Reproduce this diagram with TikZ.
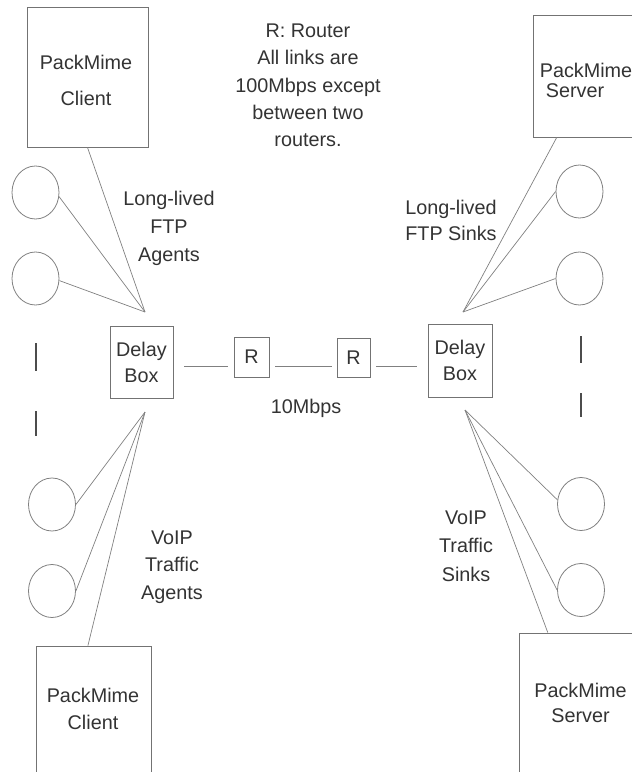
\documentclass[tikz,border=0pt]{standalone}
\usepackage{fontspec}
\setmainfont{Liberation Sans}
\usetikzlibrary{shapes.geometric,calc}

\begin{document}
\begin{tikzpicture}[x=1pt,y=-1pt,
  txt/.style={text=black!80, font=\fontsize{19.8}{27}\selectfont, align=center, inner sep=0pt},
  box/.style={draw=black!55, line width=0.9pt, rectangle, inner sep=0pt},
  host/.style={draw=black!50, line width=0.8pt, ellipse, minimum width=47pt, minimum height=53pt, inner sep=0pt},
  link/.style={draw=black!50, line width=0.7pt},
  elide/.style={draw=black!70, line width=1.3pt}]

\useasboundingbox (0,0) rectangle (632,772);
\clip (0,0) rectangle (632,772);

% PackMime end points (some run past the page edge)
\node[box, minimum width=121pt, minimum height=140pt] (cliA) at (87.5,77) {};
\node[txt, font=\fontsize{19.8}{35.5}\selectfont] (cliAt) at (86,80.3) {PackMime\\Client};

\node[box, minimum width=127pt, minimum height=122pt] (srvA) at (596.5,76) {};
\node[txt] (srvAt1) at (586,70) {PackMime};
\node[txt] (srvAt2) at (575,90.5) {Server};

\node[box, minimum width=115pt, minimum height=154pt] (cliB) at (93.5,723) {};
\node[txt] (cliBt) at (93,708.5) {PackMime\\Client};

\node[box, minimum width=141pt, minimum height=167pt] (srvB) at (589.5,716.5) {};
\node[txt, font=\fontsize{19.8}{25}\selectfont] (srvBt) at (580.5,703) {PackMime\\Server};

% delay boxes and routers
\node[box, txt, font=\fontsize{19.8}{26}\selectfont, minimum width=63pt, minimum height=72pt] (dlyL) at (141.5,362) {Delay\\Box};
\node[box, txt, font=\fontsize{19.8}{26}\selectfont, minimum width=64pt, minimum height=73pt] (dlyR) at (460,360.5) {Delay\\Box};
\node[box, txt, minimum width=35pt, minimum height=40pt] (rtA) at (251.5,357) {R};
\node[box, txt, minimum width=33pt, minimum height=39pt] (rtB) at (353.5,357.5) {R};

% traffic hosts
\node[host] (ftpA1) at (35.5,192.5) {};
\node[host] (ftpA2) at (35.5,278.5) {};
\node[host] (voA1) at (52,504.5) {};
\node[host] (voA2) at (52,591) {};
\node[host] (ftpS1) at (579.5,191.5) {};
\node[host] (ftpS2) at (579.5,278.5) {};
\node[host] (voS1) at (581,504) {};
\node[host] (voS2) at (581,590) {};

% meeting points of the access links
\coordinate (hubLT) at (145,312);
\coordinate (hubLB) at (145,412);
\coordinate (hubRT) at (463,312);
\coordinate (hubRB) at (465,410);

\draw[link] (cliA.south) -- (hubLT);
\draw[link] (ftpA1.-10) -- (hubLT);
\draw[link] (ftpA2.-5) -- (hubLT);

\draw[link] (voA1.east) -- (hubLB);
\draw[link] (voA2.east) -- (hubLB);
\draw[link] ($(cliB.north west)!0.452!(cliB.north east)$) -- (hubLB);

\draw[link] ($(srvA.south west)!0.189!(srvA.south east)$) -- (hubRT);
\draw[link] (ftpS1.west) -- (hubRT);
\draw[link] (ftpS2.west) -- (hubRT);

\draw[link] (voS1.170) -- (hubRB);
\draw[link] (voS2.west) -- (hubRB);
\draw[link] ($(srvB.north west)!0.206!(srvB.north east)$) -- (hubRB);

% backbone
\coordinate (lk) at (0,366);
\draw[link, shorten <=11pt, shorten >=6pt] (dlyL.east |- lk) -- (rtA.west |- lk);
\draw[link, shorten <=6pt, shorten >=5pt] (rtA.east |- lk) -- (rtB.west |- lk);
\draw[link, shorten <=6pt, shorten >=11pt] (rtB.east |- lk) -- (dlyR.west |- lk);

% elided hosts
\draw[elide] (36,343) -- (36,371);
\draw[elide] (36,411) -- (36,436);
\draw[elide] (581,336) -- (581,363);
\draw[elide] (581,393) -- (581,417);

% labels
\node[txt, font=\fontsize{19.8}{27.25}\selectfont] (note) at (308,85.5) {R: Router\\All links are\\100Mbps except\\between two\\routers.};
\node[txt, font=\fontsize{19.8}{28}\selectfont] (lblFA) at (169,228.6) {Long-lived\\FTP\\Agents};
\node[txt, font=\fontsize{19.8}{26}\selectfont] (lblFS) at (451,220) {Long-lived\\FTP Sinks};
\node[txt, font=\fontsize{19.8}{27.5}\selectfont] (lblVA) at (172,567) {VoIP\\Traffic\\Agents};
\node[txt, font=\fontsize{19.8}{28.5}\selectfont] (lblVS) at (466,546) {VoIP\\Traffic\\Sinks};
\node[txt] (bw) at (306,408) {10Mbps};

\end{tikzpicture}
\end{document}
